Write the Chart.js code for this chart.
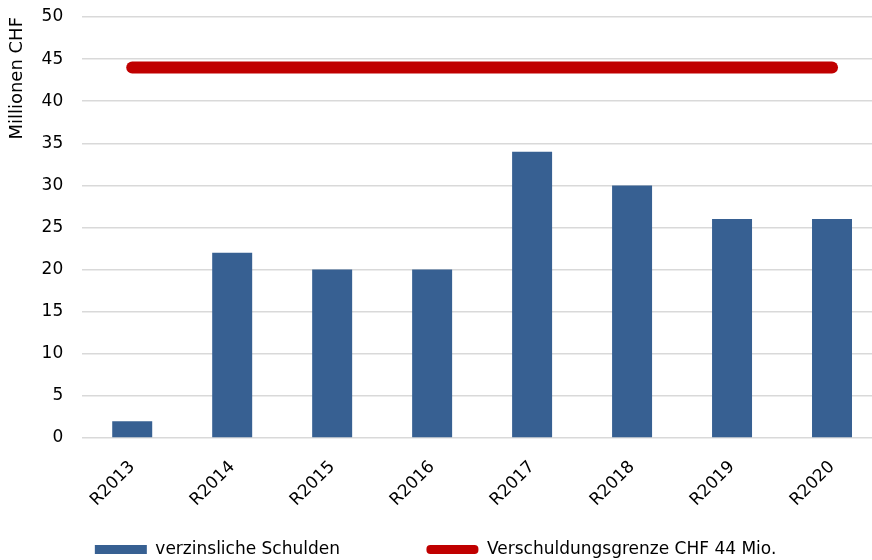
<!DOCTYPE html>
<html>
<head>
<meta charset="utf-8">
<script src="https://cdn.jsdelivr.net/npm/chart.js@4"></script>
<style>
  html, body { margin: 0; padding: 0; overflow: hidden; background: #fff; }
  canvas { display: block; }
</style>
</head>
<body>
<canvas id="myChart" width="882" height="568"></canvas>
<script>
  const years = ['R2013', 'R2014', 'R2015', 'R2016', 'R2017', 'R2018', 'R2019', 'R2020'];
  const schulden = [2, 22, 20, 20, 34, 30, 26, 26];
  const grenze = [44, 44, 44, 44, 44, 44, 44, 44];
  const yTicks = [0, 5, 10, 15, 20, 25, 30, 35, 40, 45, 50];

  Chart.defaults.font.family = 'DejaVu Sans';
  Chart.defaults.font.size = 17;
  Chart.defaults.color = '#000';

  // legend spacing: Chart.js uses one padding for both directions, so widen items with nbsp
  const legendGap = { 0: '\u00a0\u00a0', 1: '\u00a0'.repeat(11) };

  const data = {
    labels: years,
    datasets: [{
      type: 'line',
      label: 'Verschuldungsgrenze CHF 44 Mio.',
      data: grenze,
      borderColor: '#C00000',
      backgroundColor: '#C00000',
      borderWidth: 12,
      borderCapStyle: 'round',
      pointRadius: 0,
      order: 0
    }, {
      type: 'bar',
      label: 'verzinsliche Schulden',
      data: schulden,
      backgroundColor: '#376092',
      borderWidth: 0,
      categoryPercentage: 1,
      barPercentage: 0.4,
      order: 1
    }]
  };

  const config = {
    type: 'bar',
    data: data,
    options: {
      responsive: false,
      animation: false,
      layout: {
        padding: { top: 17, left: 0, right: 0, bottom: 0 }
      },
      plugins: {
        tooltip: { enabled: false },
        legend: {
          position: 'bottom',
          reverse: true,
          labels: {
            boxWidth: 52,
            boxHeight: 9,
            padding: 27,
            useBorderRadius: true,
            generateLabels: function(chart) {
              return Chart.defaults.plugins.legend.labels.generateLabels(chart).map(function(l) {
                l.lineWidth = 0;
                l.borderRadius = l.datasetIndex === 0 ? 4 : 0;
                l.text = l.text + legendGap[l.datasetIndex];
                return l;
              });
            }
          }
        }
      },
      scales: {
        x: {
          grid: { display: false },
          border: { display: false },
          ticks: {
            minRotation: 45,
            maxRotation: 45,
            padding: 11
          },
          afterFit: function(s) { s.height = 76; }
        },
        y: {
          min: 0,
          max: 50,
          afterBuildTicks: function(s) { s.ticks = yTicks.map(v => ({ value: v })); },
          afterFit: function(s) { s.paddingTop = 0; s.paddingBottom = 0; },
          grid: { color: '#d9d9d9', lineWidth: 1.5, drawTicks: false },
          border: { display: false },
          ticks: { padding: 19 },
          title: {
            display: true,
            text: 'Millionen CHF',
            align: 'end',
            font: { size: 18 },
            padding: { top: 7, bottom: -6 }
          }
        }
      }
    }
  };

  var myChart = new Chart(document.getElementById('myChart'), config);
</script>
</body>
</html>
